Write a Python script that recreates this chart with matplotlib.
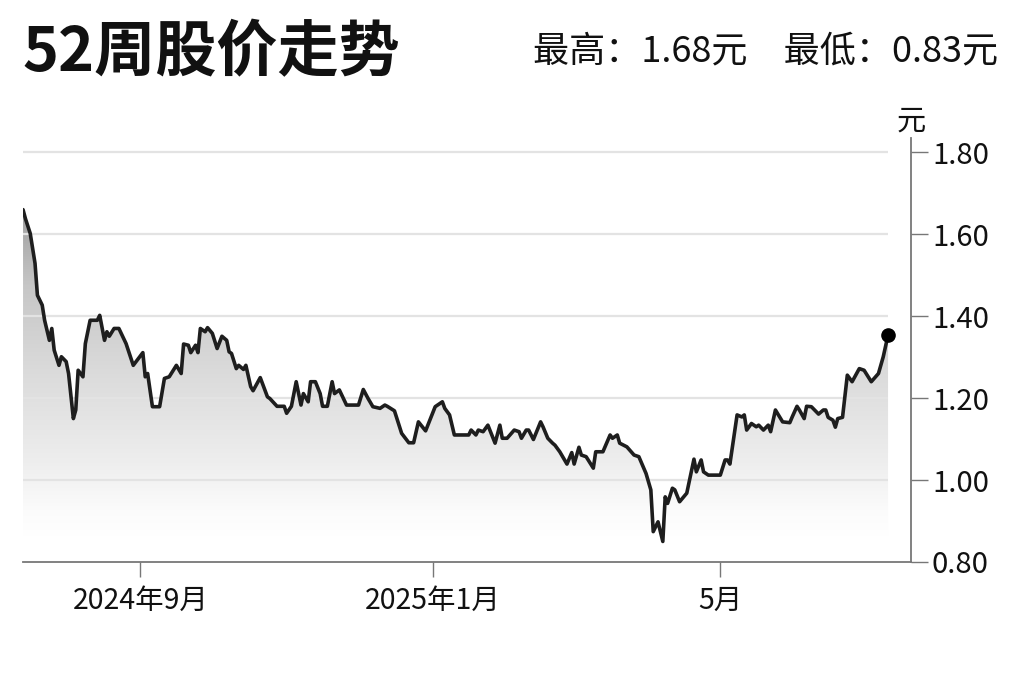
import numpy as np
import pandas as pd
import matplotlib
matplotlib.use("Agg")
import matplotlib.pyplot as plt
from matplotlib.colors import LinearSegmentedColormap

plt.rcParams['font.family'] = ['Noto Sans CJK SC', 'DejaVu Sans']

# 52周收盘价
dates = [
    "2024-07-14", "2024-07-15", "2024-07-17", "2024-07-19", "2024-07-20", "2024-07-22",
    "2024-07-23", "2024-07-25", "2024-07-26", "2024-07-27", "2024-07-29", "2024-07-30",
    "2024-08-01", "2024-08-02", "2024-08-04", "2024-08-05", "2024-08-06", "2024-08-08",
    "2024-08-09", "2024-08-11", "2024-08-14", "2024-08-15", "2024-08-17", "2024-08-18",
    "2024-08-19", "2024-08-21", "2024-08-23", "2024-08-26", "2024-08-29", "2024-09-02",
    "2024-09-03", "2024-09-04", "2024-09-06", "2024-09-09", "2024-09-11", "2024-09-13",
    "2024-09-16", "2024-09-18", "2024-09-19", "2024-09-21", "2024-09-22", "2024-09-24",
    "2024-09-25", "2024-09-26", "2024-09-28", "2024-09-29", "2024-10-01", "2024-10-03",
    "2024-10-05", "2024-10-07", "2024-10-08", "2024-10-09", "2024-10-11", "2024-10-12",
    "2024-10-14", "2024-10-15", "2024-10-17", "2024-10-18", "2024-10-21", "2024-10-24",
    "2024-10-25", "2024-10-28", "2024-10-31", "2024-11-01", "2024-11-03", "2024-11-05",
    "2024-11-07", "2024-11-08", "2024-11-10", "2024-11-11", "2024-11-13", "2024-11-15",
    "2024-11-16", "2024-11-18", "2024-11-20", "2024-11-21", "2024-11-23", "2024-11-26",
    "2024-12-01", "2024-12-03", "2024-12-05", "2024-12-07", "2024-12-10", "2024-12-12",
    "2024-12-13", "2024-12-16", "2024-12-19", "2024-12-22", "2024-12-24", "2024-12-26",
    "2024-12-29", "2025-01-02", "2025-01-05", "2025-01-06", "2025-01-08", "2025-01-10",
    "2025-01-16", "2025-01-17", "2025-01-19", "2025-01-20", "2025-01-22", "2025-01-24",
    "2025-01-27", "2025-01-29", "2025-01-30", "2025-02-01", "2025-02-04", "2025-02-06",
    "2025-02-07", "2025-02-09", "2025-02-10", "2025-02-12", "2025-02-15", "2025-02-16",
    "2025-02-18", "2025-02-20", "2025-02-21", "2025-02-23", "2025-02-26", "2025-02-28",
    "2025-03-01", "2025-03-03", "2025-03-04", "2025-03-06", "2025-03-09", "2025-03-10",
    "2025-03-13", "2025-03-16", "2025-03-17", "2025-03-19", "2025-03-20", "2025-03-23",
    "2025-03-26", "2025-03-28", "2025-03-31", "2025-04-02", "2025-04-03", "2025-04-05",
    "2025-04-07", "2025-04-08", "2025-04-09", "2025-04-11", "2025-04-12", "2025-04-14",
    "2025-04-17", "2025-04-20", "2025-04-21", "2025-04-23", "2025-04-24", "2025-04-26",
    "2025-05-01", "2025-05-03", "2025-05-04", "2025-05-05", "2025-05-08", "2025-05-10",
    "2025-05-11", "2025-05-12", "2025-05-14", "2025-05-16", "2025-05-17", "2025-05-19",
    "2025-05-21", "2025-05-22", "2025-05-24", "2025-05-27", "2025-05-30", "2025-05-31",
    "2025-06-02", "2025-06-03", "2025-06-05", "2025-06-06", "2025-06-08", "2025-06-11",
    "2025-06-13", "2025-06-14", "2025-06-15", "2025-06-17", "2025-06-18", "2025-06-19",
    "2025-06-21", "2025-06-23", "2025-06-24", "2025-06-25", "2025-06-28", "2025-06-30",
    "2025-07-03", "2025-07-06", "2025-07-08", "2025-07-10",
]
prices = [
    1.660, 1.638, 1.602, 1.529, 1.451, 1.427,
    1.390, 1.341, 1.370, 1.317, 1.280, 1.301,
    1.289, 1.260, 1.150, 1.171, 1.268, 1.252,
    1.333, 1.390, 1.390, 1.402, 1.341, 1.362,
    1.351, 1.370, 1.370, 1.333, 1.280, 1.311,
    1.252, 1.260, 1.179, 1.179, 1.248, 1.252,
    1.280, 1.260, 1.332, 1.329, 1.311, 1.329,
    1.311, 1.370, 1.362, 1.372, 1.358, 1.321,
    1.351, 1.341, 1.313, 1.309, 1.272, 1.280,
    1.270, 1.280, 1.228, 1.218, 1.250, 1.203,
    1.199, 1.180, 1.180, 1.163, 1.180, 1.240,
    1.183, 1.211, 1.191, 1.240, 1.240, 1.211,
    1.180, 1.180, 1.240, 1.211, 1.220, 1.183,
    1.183, 1.221, 1.199, 1.179, 1.175, 1.183,
    1.180, 1.169, 1.114, 1.091, 1.091, 1.142,
    1.120, 1.179, 1.191, 1.175, 1.159, 1.110,
    1.110, 1.122, 1.110, 1.122, 1.118, 1.134,
    1.090, 1.134, 1.102, 1.102, 1.122, 1.118,
    1.102, 1.122, 1.122, 1.099, 1.142, 1.130,
    1.102, 1.090, 1.085, 1.069, 1.039, 1.067,
    1.039, 1.080, 1.061, 1.057, 1.029, 1.069,
    1.069, 1.110, 1.102, 1.110, 1.090, 1.081,
    1.061, 1.057, 1.016, 0.976, 0.874, 0.898,
    0.850, 0.959, 0.943, 0.980, 0.976, 0.947,
    0.968, 1.051, 1.020, 1.049, 1.020, 1.012,
    1.012, 1.049, 1.049, 1.039, 1.159, 1.154,
    1.159, 1.122, 1.138, 1.130, 1.134, 1.122,
    1.134, 1.118, 1.171, 1.142, 1.140, 1.154,
    1.180, 1.171, 1.150, 1.180, 1.179, 1.161,
    1.171, 1.171, 1.153, 1.146, 1.129, 1.150,
    1.153, 1.256, 1.248, 1.240, 1.272, 1.268,
    1.240, 1.260, 1.301, 1.354,
]

x_tick_dates = ["2024-09-01", "2025-01-01", "2025-05-01"]
x_tick_labels = ["2024年9月", "2025年1月", "5月"]
y_ticks = [0.80, 1.00, 1.20, 1.40, 1.60, 1.80]
title = "52周股价走势"
subtitle = "最高：1.68元\u3000最低：0.83元"
unit = "元"

df = pd.DataFrame({"date": pd.to_datetime(dates), "price": prices})

fig = plt.figure(figsize=(10.24, 6.82), dpi=100, facecolor='white')
ax = fig.add_axes([0.0225, 0.176, 0.8672, 0.6217])

x0 = df["date"].iloc[0]
x1 = df["date"].iloc[-1]
ax.set_xlim(x0, x1 + pd.Timedelta(days=9.6))
ax.set_ylim(0.80, 1.835)

# 渐变填充
cmap = LinearSegmentedColormap.from_list(
    "fade",
    [(0.0, "#ffffff"), (0.08, "#fbfbfb"), (0.22, "#eeeeee"),
     (0.5, "#dadada"), (0.75, "#c6c6c6"), (1.0, "#999999")])
grad = np.linspace(0, 1, 256).reshape(-1, 1)
img = ax.imshow(grad, cmap=cmap, aspect='auto', origin='lower',
                extent=[matplotlib.dates.date2num(x0), matplotlib.dates.date2num(x1), 0.86, 1.68],
                zorder=1)
poly = ax.fill_between(df["date"], df["price"], 0.80, color='none', lw=0, zorder=1)
clip = poly.get_paths()[0]
img.set_clip_path(clip, transform=ax.transData)

# 网格线
ax.hlines(y_ticks[1:], x0, x1, colors='#e3e3e3', lw=1.6, zorder=2)

ax.plot(df["date"], df["price"], color='#1e1e1e', lw=2.6, zorder=3,
        solid_joinstyle='round', solid_capstyle='round')
ax.plot(df["date"].iloc[-1], df["price"].iloc[-1], 'o', color='black', ms=9.5, zorder=4)

# 坐标轴
for s in ['top', 'left']:
    ax.spines[s].set_visible(False)
ax.spines['bottom'].set_color('#777777')
ax.spines['bottom'].set_linewidth(1.3)
ax.spines['right'].set_color('#777777')
ax.spines['right'].set_linewidth(1.3)

ax.yaxis.tick_right()
ax.set_yticks(y_ticks)
ax.set_yticklabels(["{:.2f}".format(v) for v in y_ticks])
ax.tick_params(axis='y', direction='out', length=12, width=1, color='#777777',
               labelsize=21, labelcolor='#111111', pad=3)
ax.set_xticks(pd.to_datetime(x_tick_dates))
ax.set_xticklabels(x_tick_labels)
ax.tick_params(axis='x', direction='out', length=11, width=1, color='#777777',
               labelsize=20.5, labelcolor='#111111', pad=6)

fig.text(0.0215, 0.921, title, fontsize=44, fontweight='heavy', color='#111111',
         ha='left', va='center')
fig.text(0.975, 0.925, subtitle, fontsize=26, color='#111111', ha='right', va='center')
fig.text(0.89, 0.822, unit, fontsize=21, color='#111111', ha='center', va='center')

plt.savefig("out.png", dpi=100, facecolor='white')
plt.close()
